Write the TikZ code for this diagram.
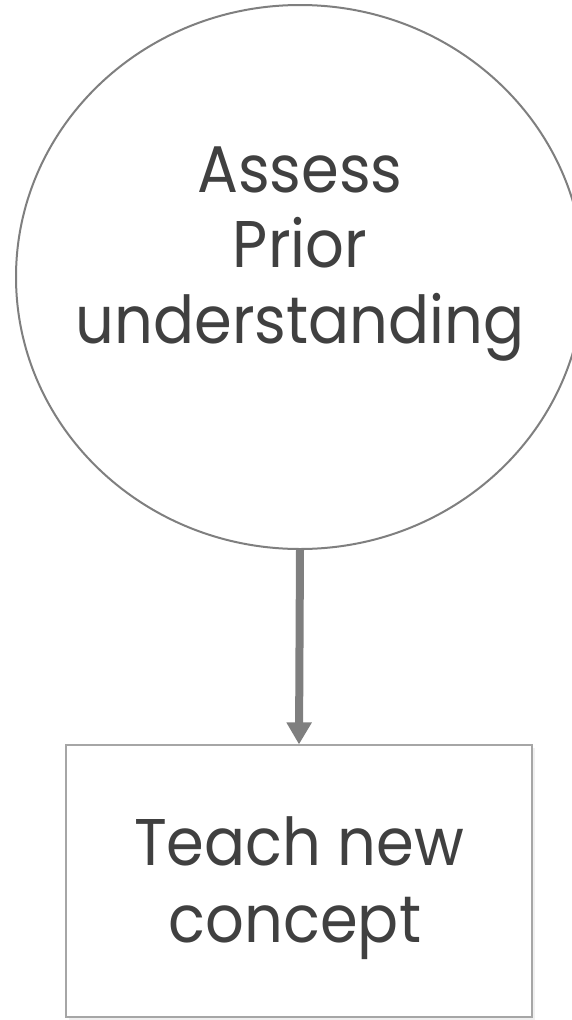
\documentclass[tikz,border=0pt]{standalone}
\usepackage{fontspec}
\setmainfont{Poppins}[FakeStretch=0.92]
\usetikzlibrary{arrows.meta,shapes.geometric,shadows}
\definecolor{txtgray}{HTML}{404040}
\definecolor{linegray}{HTML}{7F7F7F}
\definecolor{boxgray}{HTML}{A6A6A6}
\tikzset{
  bubble/.style={ellipse, draw=linegray, line width=2pt, fill=white, minimum width=568pt, minimum height=544pt, inner sep=0pt},
  stepbox/.style={rectangle, draw=boxgray, line width=1.2pt, fill=white, minimum width=466pt, minimum height=272pt, inner sep=0pt,
    drop shadow={opacity=0.12, shadow xshift=3pt, shadow yshift=-3pt}},
  lbl/.style={anchor=base, text=txtgray, inner sep=0pt, font=\fontsize{66}{76}\selectfont},
  flow/.style={draw=linegray, line width=8pt, -{Triangle[width=24pt,length=22pt]}}
}
\begin{document}
\begin{tikzpicture}[x=1pt,y=-1pt]
\useasboundingbox (0,0) rectangle (572,1020);
\node[bubble] (assess) at (300,277) {};
\node[stepbox] (teach) at (299,881) {};
\node[lbl] (a1) at (300,192) {Assess};
\node[lbl] (a2) at (300,267) {Prior};
\node[lbl] (a3) at (300,343) {understanding};
\node[lbl] (t1) at (299,865) {Teach new};
\node[lbl] (t2) at (295,942) {concept};
\draw[flow] (assess.south) -- (teach.north);
\end{tikzpicture}
\end{document}
